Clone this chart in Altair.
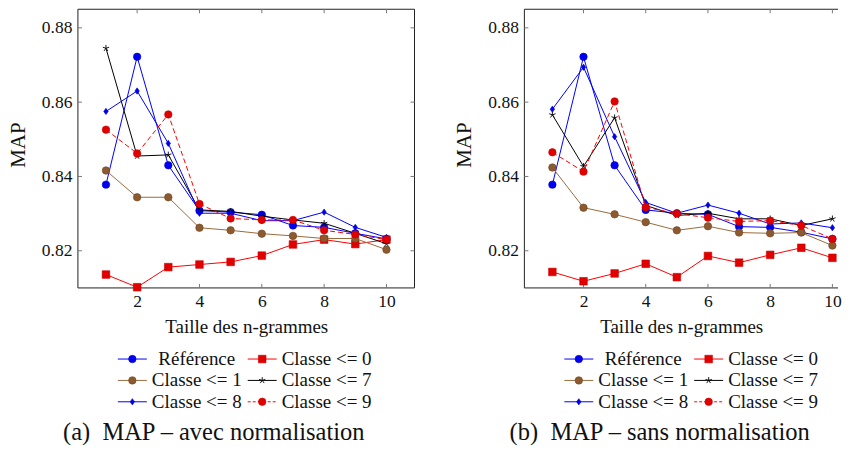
import altair as alt
import pandas as pd

# ---------------- data ----------------
N = [1, 2, 3, 4, 5, 6, 7, 8, 9, 10]
SERIES = ["Référence", "Classe <= 0", "Classe <= 1", "Classe <= 7", "Classe <= 8", "Classe <= 9"]

# (a) avec normalisation
ref_a = [0.8378, 0.8722, 0.8430, 0.8308, 0.8304, 0.8297, 0.8268, 0.8263, 0.8247, 0.8232]
c0_a = [0.8136, 0.8102, 0.8156, 0.8163, 0.8170, 0.8187, 0.8217, 0.8230, 0.8218, 0.8230]
c1_a = [0.8416, 0.8344, 0.8344, 0.8262, 0.8255, 0.8246, 0.8240, 0.8233, 0.8233, 0.8203]
c7_a = [0.8745, 0.8455, 0.8458, 0.8310, 0.8306, 0.8293, 0.8283, 0.8274, 0.8247, 0.8219]
c8_a = [0.8575, 0.8630, 0.8489, 0.8301, 0.8301, 0.8281, 0.8281, 0.8304, 0.8263, 0.8236]
c9_a = [0.8526, 0.8462, 0.8567, 0.8326, 0.8287, 0.8283, 0.8283, 0.8255, 0.8244, 0.8230]

# (b) sans normalisation
ref_b = [0.8378, 0.8722, 0.8430, 0.8310, 0.8301, 0.8298, 0.8265, 0.8263, 0.8250, 0.8232]
c0_b = [0.8143, 0.8118, 0.8139, 0.8165, 0.8129, 0.8186, 0.8168, 0.8189, 0.8208, 0.8181]
c1_b = [0.8424, 0.8316, 0.8298, 0.8277, 0.8255, 0.8266, 0.8249, 0.8247, 0.8249, 0.8214]
c7_b = [0.8566, 0.8427, 0.8558, 0.8322, 0.8295, 0.8301, 0.8286, 0.8286, 0.8268, 0.8286]
c8_b = [0.8581, 0.8694, 0.8507, 0.8330, 0.8301, 0.8323, 0.8301, 0.8272, 0.8275, 0.8262]
c9_b = [0.8465, 0.8413, 0.8602, 0.8317, 0.8300, 0.8289, 0.8279, 0.8281, 0.8268, 0.8232]

X_TICKS = [2, 4, 6, 8, 10]
Y_TICKS = [0.82, 0.84, 0.86, 0.88]
X_TITLE = "Taille des n-grammes"
Y_TITLE = "MAP"
CAPTION_A = "(a)\u00a0 MAP – avec normalisation"
CAPTION_B = "(b)\u00a0 MAP – sans normalisation"

# ---------------- style ----------------
FONT = "Liberation Serif"
YMIN, YMAX = 0.81, 0.885
XMIN = 0.1
H = 279

STAR = "M0,0L0,-1M0,0L0.951,-0.309M0,0L0.588,0.809M0,0L-0.588,0.809M0,0L-0.951,-0.309"
THIN_DIAMOND = "M0,-1L0.7,0L0,1L-0.7,0Z"

STYLE = {
    "Référence": dict(line="#0000ff", fill="#0000ee", stroke="#0000cc", shape="circle", size=56, dash=None, filled=True),
    "Classe <= 0": dict(line="#ff0000", fill="#e00000", stroke="#cc0000", shape="square", size=58, dash=None, filled=True),
    "Classe <= 1": dict(line="#9a6a3c", fill="#8c5a2e", stroke="#6e4520", shape="circle", size=56, dash=None, filled=True),
    "Classe <= 7": dict(line="#000000", fill="none", stroke="#000000", shape=STAR, size=44, dash=None, filled=False),
    "Classe <= 8": dict(line="#0000ff", fill="#0000ee", stroke="#0000cc", shape=THIN_DIAMOND, size=40, dash=None, filled=True),
    "Classe <= 9": dict(line="#ff0000", fill="#e00000", stroke="#cc0000", shape="circle", size=56, dash=[5, 3], filled=True),
}


def point_mark(st, **kw):
    if st["filled"]:
        return alt.Chart().mark_point(shape=st["shape"], size=st["size"], filled=True,
                                      fill=st["fill"], stroke=st["stroke"], strokeWidth=0.6,
                                      opacity=1, **kw)
    return alt.Chart().mark_point(shape=st["shape"], size=st["size"], filled=False,
                                  stroke=st["stroke"], strokeWidth=0.9, opacity=1, **kw)


def panel(values, caption, W, xmax, right_border, cap_x):
    rows = []
    for s, ys in zip(SERIES, values):
        for n, v in zip(N, ys):
            rows.append({"series": s, "n": n, "v": v})
    df = pd.DataFrame(rows)

    xs = alt.Scale(domain=[XMIN, xmax], nice=False, zero=False)
    ysc = alt.Scale(domain=[YMIN, YMAX], nice=False, zero=False)
    xaxis = alt.Axis(values=X_TICKS, title=X_TITLE, format="d", ticks=False, domain=False,
                     grid=False, labelPadding=5, titlePadding=7)
    yaxis = alt.Axis(values=Y_TICKS, title=None, format=".2f", ticks=False, domain=False,
                     grid=False, labelPadding=6)

    def X(f):
        return alt.X(f + ":Q", scale=xs, axis=xaxis)

    def Y(f):
        return alt.Y(f + ":Q", scale=ysc, axis=yaxis)

    # frame and inward ticks, derived from the domains / tick lists
    tly = 4.0 / H * (YMAX - YMIN)
    tlx = 4.0 / W * (xmax - XMIN)
    segs = [
        {"a": XMIN, "b": xmax, "c": YMIN, "d": YMIN, "k": "frame"},
        {"a": XMIN, "b": xmax, "c": YMAX, "d": YMAX, "k": "frame"},
        {"a": XMIN, "b": XMIN, "c": YMIN, "d": YMAX, "k": "frame"},
    ]
    if right_border:
        segs.append({"a": xmax, "b": xmax, "c": YMIN, "d": YMAX, "k": "frame"})
    for t in X_TICKS:
        segs.append({"a": t, "b": t, "c": YMIN, "d": YMIN + tly, "k": "tick"})
        segs.append({"a": t, "b": t, "c": YMAX - tly, "d": YMAX, "k": "tick"})
    for t in Y_TICKS:
        segs.append({"a": XMIN, "b": XMIN + tlx, "c": t, "d": t, "k": "tick"})
        if right_border:
            segs.append({"a": xmax - tlx, "b": xmax, "c": t, "d": t, "k": "tick"})
    seg_df = pd.DataFrame(segs)

    frame = alt.Chart(seg_df).transform_filter(alt.datum.k == "frame").mark_rule(
        color="#222222", strokeWidth=1).encode(x=X("a"), x2="b", y=Y("c"), y2="d")
    ticks = alt.Chart(seg_df).transform_filter(alt.datum.k == "tick").mark_rule(
        color="#777777", strokeWidth=1).encode(x=X("a"), x2="b", y=Y("c"), y2="d")

    data_layers = [frame, ticks]
    for s in SERIES:
        st = STYLE[s]
        lkw = dict(color=st["line"], strokeWidth=1)
        if st["dash"]:
            lkw["strokeDash"] = st["dash"]
        line = alt.Chart(df).transform_filter(alt.datum.series == s).mark_line(**lkw).encode(
            x=X("n"), y=Y("v"), order="n:Q")
        pts = point_mark(st).properties(data=df).transform_filter(alt.datum.series == s).encode(
            x=X("n"), y=Y("v"))
        data_layers += [line, pts]
    plot = alt.layer(*data_layers)

    # ---- custom pgfplots-like legend (2 columns x 3 rows) ----
    leg_df = pd.DataFrame({"series": SERIES,
                           "col": [i % 2 for i in range(len(SERIES))],
                           "row": [i // 2 for i in range(len(SERIES))]})
    col_w = 130.0
    col0 = 40.0
    row_h = 21.4
    row0 = 350.2
    lx = alt.Scale(domain=[-col0 / col_w, (W - col0) / col_w], nice=False, zero=False)
    d0 = -row0 / row_h
    ly = alt.Scale(domain=[d0, d0 + H / row_h], nice=False, zero=False, reverse=True)
    LX = alt.X("col:Q", scale=lx, axis=None)
    LY = alt.Y("row:Q", scale=ly, axis=None)
    leg_layers = []
    for s in SERIES:
        st = STYLE[s]
        lkw = dict(color=st["line"], strokeWidth=1, x2Offset=29)
        if st["dash"]:
            lkw["strokeDash"] = [3, 2]
        base = alt.Chart(leg_df).transform_filter(alt.datum.series == s)
        leg_layers.append(base.mark_rule(**lkw).encode(x=LX, x2="col:Q", y=LY))
        leg_layers.append(point_mark(st, xOffset=14.5).properties(data=leg_df)
                          .transform_filter(alt.datum.series == s).encode(x=LX, y=LY))
        leg_layers.append(base.mark_text(dx=79, align="center", baseline="middle",
                                         font=FONT, fontSize=19, color="#111111")
                          .encode(x=LX, y=LY, text="series:N"))
    legend = alt.layer(*leg_layers)

    cap = alt.Chart(pd.DataFrame({"t": [caption]})).mark_text(
        font=FONT, fontSize=24.5, align="center", baseline="middle", color="#111111").encode(
        x=alt.value(cap_x), y=alt.value(424), text="t:N")
    ytitle = alt.Chart(pd.DataFrame({"t": [Y_TITLE]})).mark_text(
        font=FONT, fontSize=21, align="center", baseline="middle", angle=270,
        color="#111111").encode(x=alt.value(-59), y=alt.value(136), text="t:N")

    return alt.layer(plot, legend, cap, ytitle).resolve_scale(
        x="independent", y="independent").properties(width=W, height=H)


left = panel([ref_a, c0_a, c1_a, c7_a, c8_a, c9_a], CAPTION_A, 337, 10.9, True, 136.0)
right = panel([ref_b, c0_b, c1_b, c7_b, c8_b, c9_b], CAPTION_B, 314, 10.18, False, 135.5)

chart = alt.hconcat(left, right, spacing=39).properties(
    padding={"left": 0, "top": 0, "right": 0, "bottom": 0}
).configure_view(stroke=None).configure_axis(
    labelFont=FONT, labelFontSize=17.5, labelColor="#111111",
    titleFont=FONT, titleFontSize=19, titleFontWeight="normal", titleColor="#111111"
)

chart.save("out.html", embed_options={"renderer": "svg", "actions": False})
